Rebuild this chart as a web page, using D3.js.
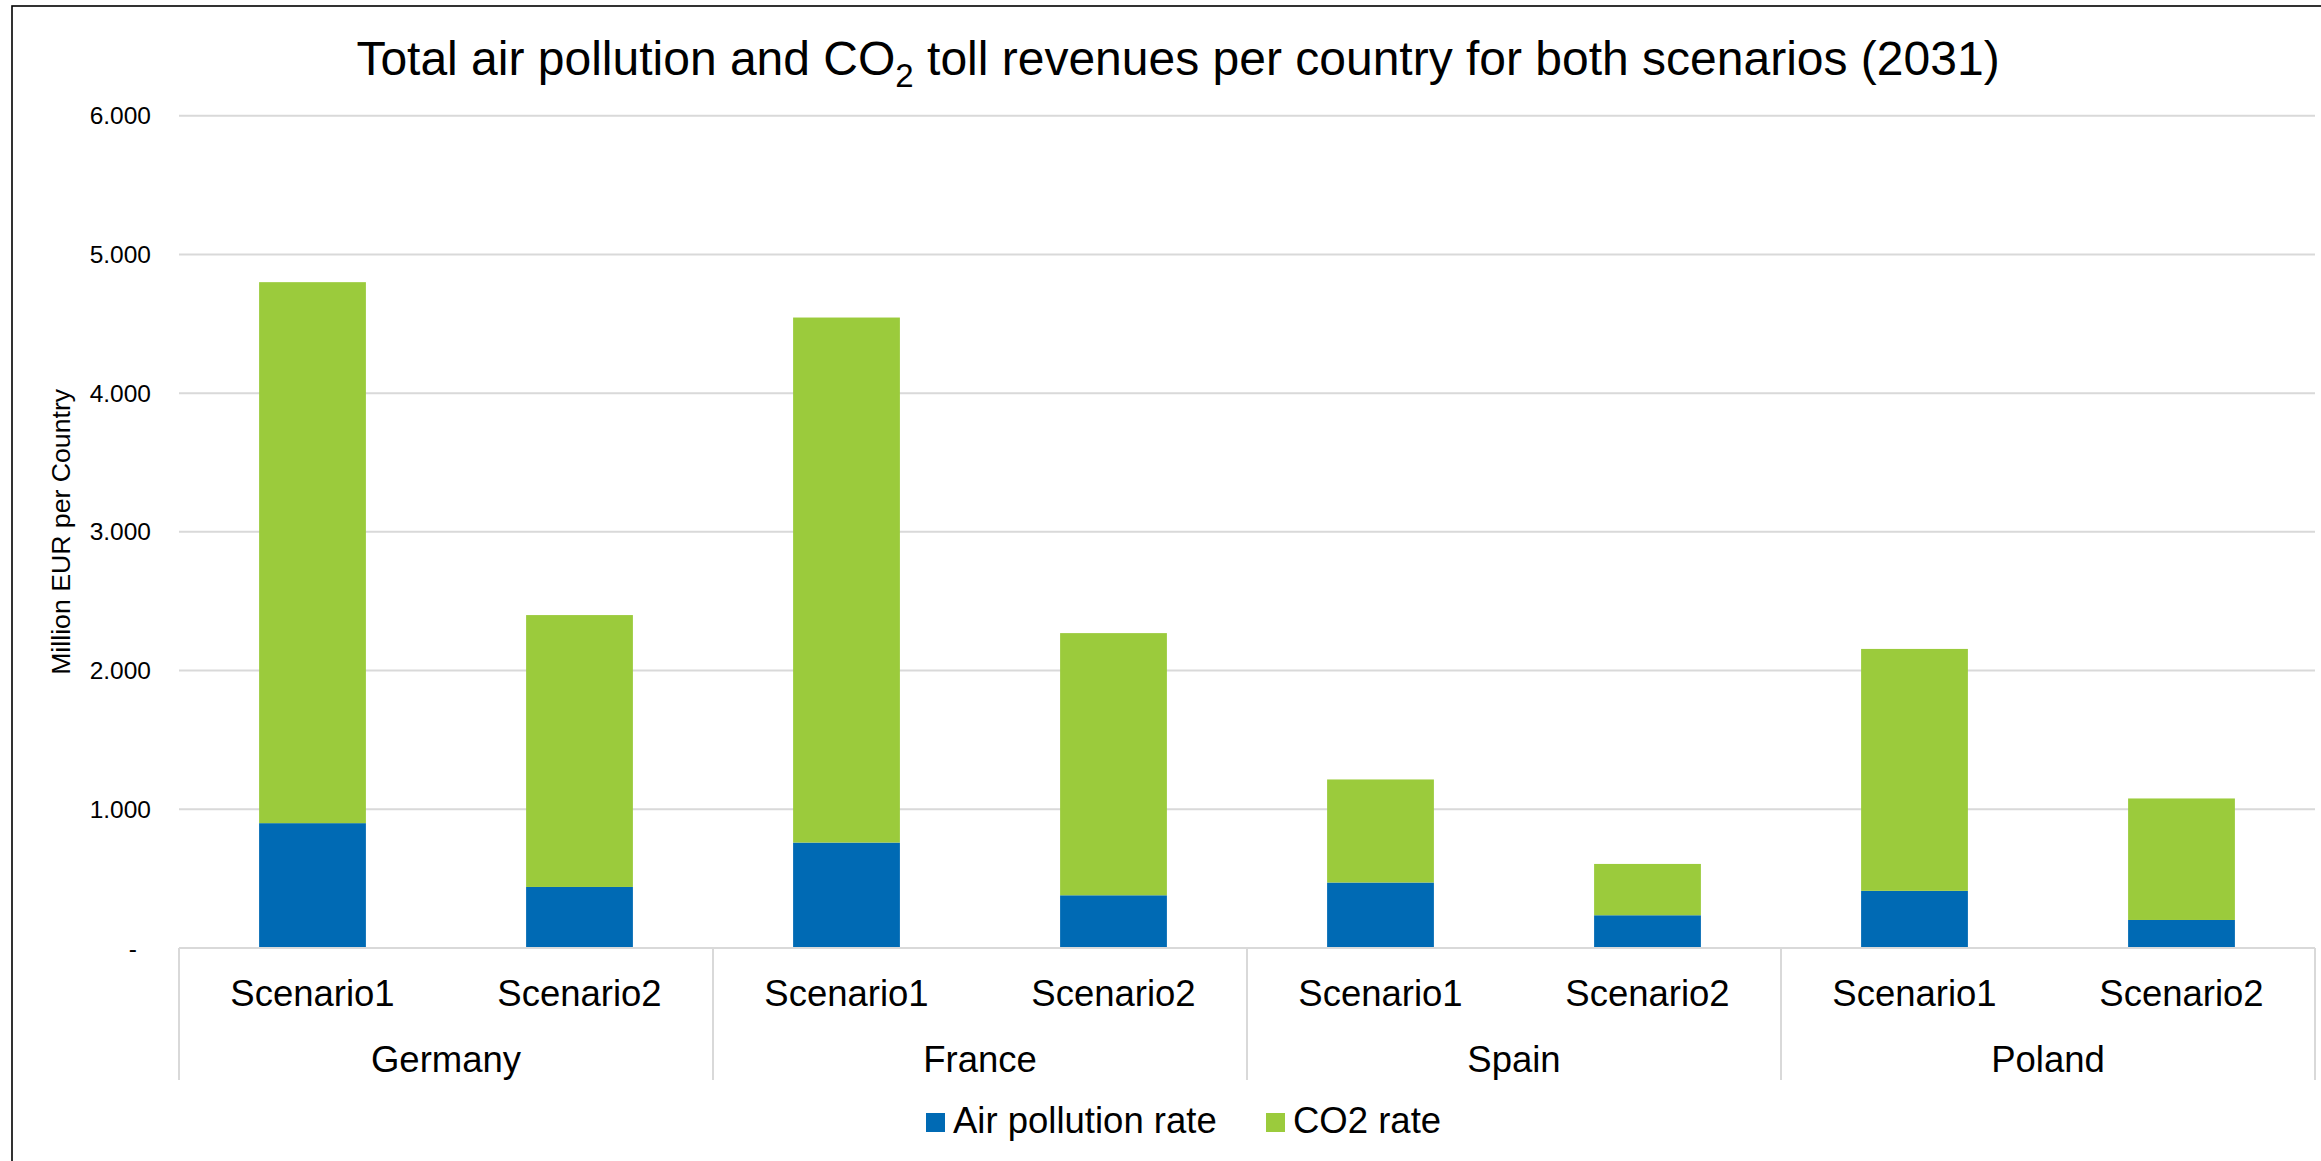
<!DOCTYPE html>
<html>
<head>
<meta charset="utf-8">
<script src="https://cdn.jsdelivr.net/npm/d3@7"></script>
<style>
  html, body { margin: 0; padding: 0; background: #fff; }
  svg { display: block; font-family: "Liberation Sans", Arial, sans-serif; }
</style>
</head>
<body>
<svg id="chart" width="2321" height="1161"></svg>
<script>
// ---- Data ----
const countries = ["Germany", "France", "Spain", "Poland"];
const scenarios = ["Scenario1", "Scenario2"];
const seriesNames = ["Air pollution rate", "CO2 rate"];
const seriesColors = ["#006ab4", "#9bcb3c"];
// values in Million EUR, order: Germany S1, S2, France S1, S2, Spain S1, S2, Poland S1, S2
const airPollution = [900, 440, 760, 380, 472, 236, 412, 202];
const co2Rate = [3900, 1960, 3785, 1890, 743, 370, 1744, 876];
const yTicks = [0, 1000, 2000, 3000, 4000, 5000, 6000];
const yTickLabels = ["-", "1.000", "2.000", "3.000", "4.000", "5.000", "6.000"];

// ---- Layout ----
const W = 2321, H = 1161;
const plot = { left: 179, right: 2315, top: 115.7, bottom: 948 };
const svg = d3.select("#chart");

svg.append("rect").attr("x", 0).attr("y", 0).attr("width", W).attr("height", H).attr("fill", "#fff");
// outer frame (top & left visible)
svg.append("rect").attr("x", 12).attr("y", 6).attr("width", W + 20).attr("height", H + 20)
  .attr("fill", "none").attr("stroke", "#000").attr("stroke-width", 1.6);

const rows = [];
countries.forEach((c, ci) => scenarios.forEach((s, si) => {
  const i = ci * scenarios.length + si;
  rows.push({ key: c + "|" + s, country: c, scenario: s, air: airPollution[i], co2: co2Rate[i] });
}));

const x = d3.scaleBand().domain(rows.map(d => d.key)).range([plot.left, plot.right]).padding(0);
const xGroup = d3.scaleBand().domain(countries).range([plot.left, plot.right]).padding(0);
const y = d3.scaleLinear().domain([0, 6000]).range([plot.bottom, plot.top]);

// gridlines
svg.append("g").selectAll("line").data(yTicks.filter(t => t > 0)).join("line")
  .attr("x1", plot.left).attr("x2", plot.right)
  .attr("y1", d => y(d)).attr("y2", d => y(d))
  .attr("stroke", "#d9d9d9").attr("stroke-width", 2);

// y tick labels
svg.append("g").selectAll("text").data(yTicks).join("text")
  .attr("x", (d, i) => i === 0 ? 137 : 151)
  .attr("y", d => y(d))
  .attr("dy", "0.35em")
  .attr("text-anchor", "end")
  .attr("font-size", 24.5)
  .attr("fill", "#000")
  .text((d, i) => yTickLabels[i]);

// y axis title
svg.append("text")
  .attr("transform", `translate(70, ${(plot.top + plot.bottom) / 2}) rotate(-90)`)
  .attr("text-anchor", "middle")
  .attr("font-size", 26.5)
  .attr("textLength", 286)
  .attr("lengthAdjust", "spacingAndGlyphs")
  .attr("fill", "#000")
  .text("Million EUR per Country");

// stacked bars
const stack = d3.stack().keys(["air", "co2"]);
const stacked = stack(rows);
const barW = x.bandwidth() * 0.4;
svg.append("g").selectAll("g").data(stacked).join("g")
  .attr("fill", (d, i) => seriesColors[i])
  .selectAll("rect").data(d => d).join("rect")
  .attr("x", d => x(d.data.key) + (x.bandwidth() - barW) / 2)
  .attr("width", barW)
  .attr("y", d => y(d[1]))
  .attr("height", d => y(d[0]) - y(d[1]));

// category axis line
svg.append("line").attr("x1", plot.left).attr("x2", plot.right)
  .attr("y1", plot.bottom).attr("y2", plot.bottom)
  .attr("stroke", "#d9d9d9").attr("stroke-width", 2);

// group separators
const seps = countries.map(c => xGroup(c)).concat([plot.right]);
svg.append("g").selectAll("line").data(seps).join("line")
  .attr("x1", d => d).attr("x2", d => d)
  .attr("y1", plot.bottom).attr("y2", 1080)
  .attr("stroke", "#d9d9d9").attr("stroke-width", 2);

// scenario labels
svg.append("g").selectAll("text").data(rows).join("text")
  .attr("x", d => x(d.key) + x.bandwidth() / 2)
  .attr("y", 1006)
  .attr("text-anchor", "middle")
  .attr("font-size", 36.5)
  .attr("fill", "#000")
  .text(d => d.scenario);

// country labels
svg.append("g").selectAll("text").data(countries).join("text")
  .attr("x", d => xGroup(d) + xGroup.bandwidth() / 2)
  .attr("y", 1072)
  .attr("text-anchor", "middle")
  .attr("font-size", 36.5)
  .attr("fill", "#000")
  .text(d => d);

// title
const title = svg.append("text")
  .attr("x", 1178).attr("y", 75)
  .attr("text-anchor", "middle")
  .attr("font-size", 48)
  .attr("fill", "#000");
title.append("tspan").text("Total air pollution and CO");
title.append("tspan").attr("font-size", 33).attr("dy", 12).text("2");
title.append("tspan").attr("dy", -12).text(" toll revenues per country for both scenarios (2031)");

// legend
const legendX = [926, 1266];
const lg = svg.append("g").selectAll("g").data(seriesNames).join("g")
  .attr("transform", (d, i) => `translate(${legendX[i]}, 0)`);
lg.append("rect").attr("x", 0).attr("y", 1113).attr("width", 19).attr("height", 19)
  .attr("fill", (d, i) => seriesColors[i]);
lg.append("text").attr("x", 27).attr("y", 1133)
  .attr("font-size", 36.5).attr("fill", "#000").text(d => d);
</script>
</body>
</html>
